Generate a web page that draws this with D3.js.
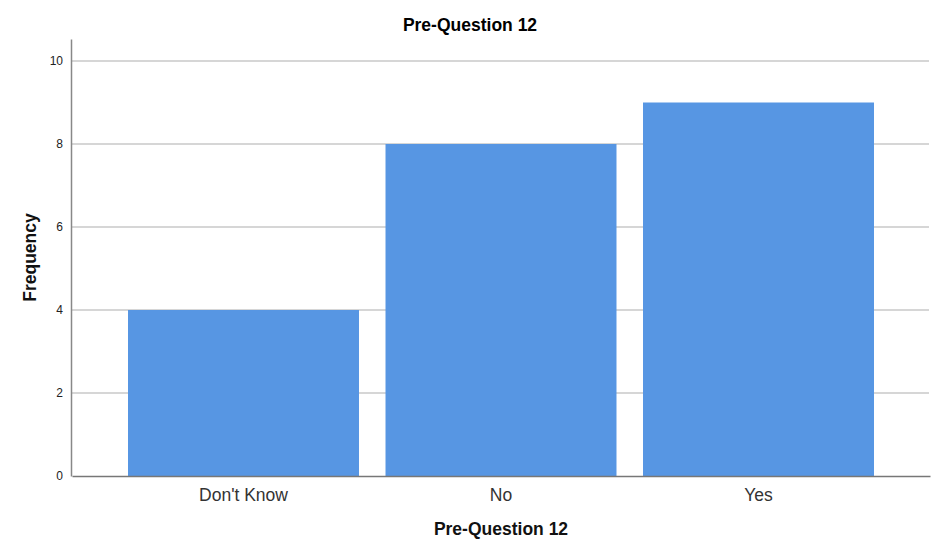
<!DOCTYPE html>
<html>
<head>
<meta charset="utf-8">
<script src="https://cdn.jsdelivr.net/npm/d3@7"></script>
<style>
  body { margin: 0; background: #fff; }
  text { font-family: "Liberation Sans", Arial, sans-serif; }
</style>
</head>
<body>
<div id="chart"></div>
<script>
// Data
const categories = ["Don't Know", "No", "Yes"];
const frequencies = [4, 8, 9];
const yTicks = [0, 2, 4, 6, 8, 10];

const width = 941, height = 554;
const margin = { top: 39, right: 12, bottom: 78, left: 71 };

const svg = d3.select('#chart').append('svg')
  .attr('width', width)
  .attr('height', height);

// Scales
const x = d3.scaleBand()
  .domain(categories)
  .range([margin.left + 1, width - margin.right + 1])
  .paddingInner(0.103)
  .paddingOuter(0.2175);

const y = d3.scaleLinear()
  .domain([0, 10.53])
  .range([height - margin.bottom, margin.top]);

// Gridlines
svg.append('g')
  .selectAll('line')
  .data(yTicks.filter(t => t > 0))
  .enter().append('line')
    .attr('x1', margin.left)
    .attr('x2', width - margin.right)
    .attr('y1', d => y(d))
    .attr('y2', d => y(d))
    .style('stroke', '#c8c8c8')
    .style('stroke-width', '1.5px');

// Bars
svg.append('g')
  .selectAll('rect')
  .data(categories)
  .enter().append('rect')
    .attr('x', d => x(d))
    .attr('y', (d, i) => y(frequencies[i]))
    .attr('width', x.bandwidth())
    .attr('height', (d, i) => y(0) - y(frequencies[i]))
    .attr('fill', '#5796e3');

// Y axis
const yAxis = svg.append('g')
  .attr('transform', `translate(${margin.left},0)`)
  .call(d3.axisLeft(y).tickValues(yTicks).tickSize(0).tickPadding(8));
yAxis.select('.domain').style('stroke', '#888').style('stroke-width', '1.5px');
yAxis.selectAll('text').style('font-size', '12px').style('fill', '#222');

// X axis
const xAxis = svg.append('g')
  .attr('transform', `translate(0,${y(0)})`)
  .call(d3.axisBottom(x).tickSize(0).tickPadding(13));
xAxis.select('.domain').style('stroke', '#777').style('stroke-width', '1.5px');
xAxis.selectAll('text').style('font-size', '17.5px').style('fill', '#333');

// Title
svg.append('text')
  .attr('x', 470)
  .attr('y', 31)
  .attr('text-anchor', 'middle')
  .style('font-size', '17.5px')
  .style('font-weight', 'bold')
  .style('fill', '#000')
  .text('Pre-Question 12');

// X axis label
svg.append('text')
  .attr('x', (margin.left + width - margin.right) / 2 + 1)
  .attr('y', 535)
  .attr('text-anchor', 'middle')
  .style('font-size', '17.5px')
  .style('font-weight', 'bold')
  .style('fill', '#111')
  .text('Pre-Question 12');

// Y axis label
svg.append('text')
  .attr('transform', `translate(36,${(margin.top + height - margin.bottom) / 2}) rotate(-90)`)
  .attr('text-anchor', 'middle')
  .style('font-size', '17.5px')
  .style('font-weight', 'bold')
  .style('fill', '#111')
  .text('Frequency');
</script>
</body>
</html>
